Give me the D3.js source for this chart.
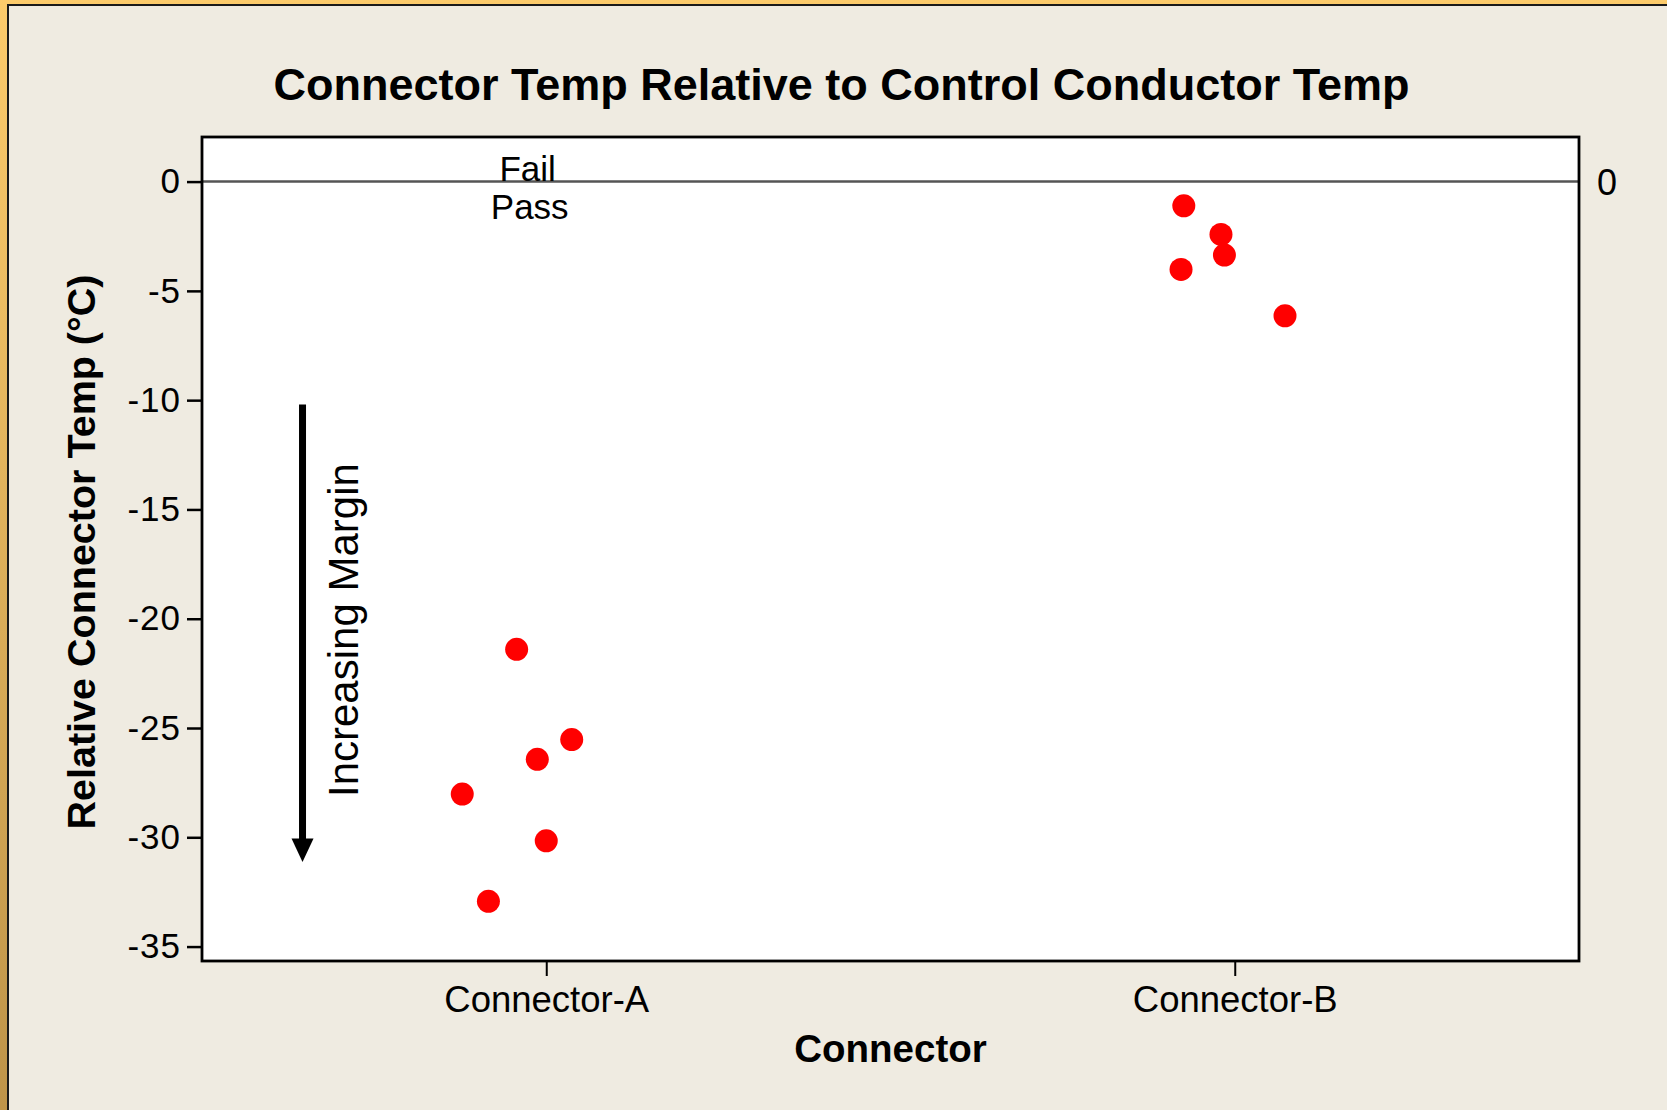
<!DOCTYPE html>
<html><head><meta charset="utf-8">
<script src="https://cdn.jsdelivr.net/npm/d3@7"></script>
<style>
body{margin:0;overflow:hidden;background:#EFEBE1;}
text{font-family:"Liberation Sans",Arial,sans-serif;fill:#000;}
</style>
</head><body><svg id="c" width="1667" height="1110"></svg>
<script>
// ---- data ----
const categories = ["Connector-A", "Connector-B"];
const categoryPos = [1, 2];
const valuesA = [-21.40, -25.53, -26.43, -28.02, -30.16, -32.93];
const xPosA   = [0.957, 1.037, 0.987, 0.878, 1.000, 0.916];
const valuesB = [-1.11, -2.42, -3.36, -4.02, -6.14];
const xPosB   = [1.926, 1.980, 1.985, 1.922, 2.073];
const yTicks  = [0, -5, -10, -15, -20, -25, -30, -35];
const refValue = 0;

// ---- layout ----
const W = 1667, H = 1110;
const L = 202, R = 1579, T = 137, B = 961;
const svg = d3.select("#c");

const defs = svg.append("defs");
const g = defs.append("linearGradient").attr("id","gold").attr("x1",0).attr("y1",0).attr("x2",0).attr("y2",1);
g.append("stop").attr("offset","0%").attr("stop-color","#FCCB6B");
g.append("stop").attr("offset","100%").attr("stop-color","#BE9449");

svg.append("rect").attr("x",0).attr("y",0).attr("width",W).attr("height",H).attr("fill","url(#gold)");
svg.append("rect").attr("x",8).attr("y",5).attr("width",W+20).attr("height",H+20)
  .attr("fill","#EFEBE1").attr("stroke","#1a1a1a").attr("stroke-width",2);

const x = d3.scaleLinear().domain([0.5, 2.5]).range([L, R]);
const y = d3.scaleLinear().domain([-35.66, 2.04]).range([B, T]);

// plot area
svg.append("rect").attr("x",L).attr("y",T).attr("width",R-L).attr("height",B-T).attr("fill","#fff");

// reference line
svg.append("line").attr("x1",L).attr("x2",R).attr("y1",y(refValue)).attr("y2",y(refValue))
  .attr("stroke","#555").attr("stroke-width",2.5);

// y axis
const yAxis = svg.append("g").attr("transform",`translate(${L},0)`)
  .call(d3.axisLeft(y).tickValues(yTicks).tickFormat(d => String(d)).tickSize(15).tickPadding(6));
yAxis.select(".domain").remove();
yAxis.selectAll(".tick line").attr("stroke","#000").attr("stroke-width",2.5);
yAxis.selectAll(".tick text").style("font-size","35px").style("font-family","'Liberation Sans',Arial,sans-serif")
  .attr("letter-spacing","1px").attr("fill","#000");

// x axis
const xAxis = svg.append("g").attr("transform",`translate(0,${B})`)
  .call(d3.axisBottom(x).tickValues(categoryPos).tickFormat((d,i) => categories[i]).tickSize(15).tickPadding(10));
xAxis.select(".domain").remove();
xAxis.selectAll(".tick line").attr("stroke","#000").attr("stroke-width",2);
xAxis.selectAll(".tick text").style("font-size","36.5px").style("font-family","'Liberation Sans',Arial,sans-serif")
  .attr("fill","#000");

// frame
svg.append("rect").attr("x",L).attr("y",T).attr("width",R-L).attr("height",B-T)
  .attr("fill","none").attr("stroke","#000").attr("stroke-width",2.8);

// points
const pts = valuesA.map((v,i)=>({x:xPosA[i], v})).concat(valuesB.map((v,i)=>({x:xPosB[i], v})));
svg.append("g").selectAll("circle").data(pts).join("circle")
  .attr("cx", d => x(d.x)).attr("cy", d => y(d.v)).attr("r", 11.5).attr("fill","#FF0000");

// Fail / Pass labels
svg.append("text").attr("x", x(0.973)).attr("y", y(refValue)-1).attr("text-anchor","middle")
  .style("font-size","35px").text("Fail");
svg.append("text").attr("x", x(0.976)).attr("y", y(refValue)+37).attr("text-anchor","middle")
  .style("font-size","35px").text("Pass");

// right reference label
svg.append("text").attr("x", R+18).attr("y", y(refValue)).attr("dy","0.36em")
  .style("font-size","36px").text("0");

// arrow
const ax = x(0.646);
const yTop = y(-10.2), yHead = y(-30.05), yTip = y(-31.13);
svg.append("line").attr("x1",ax).attr("x2",ax).attr("y1",yTop).attr("y2",yHead+2)
  .attr("stroke","#000").attr("stroke-width",7);
svg.append("path").attr("d",`M${ax-11},${yHead} L${ax+11},${yHead} L${ax},${yTip} Z`).attr("fill","#000");

svg.append("text").attr("transform",`translate(358,797) rotate(-90)`)
  .style("font-size","42px").text("Increasing Margin");

// titles
svg.append("text").attr("x",841.5).attr("y",100).attr("text-anchor","middle")
  .style("font-size","45px").style("font-weight","bold").text("Connector Temp Relative to Control Conductor Temp");
svg.append("text").attr("x",(L+R)/2).attr("y",1062).attr("text-anchor","middle")
  .style("font-size","38.5px").style("font-weight","bold").text("Connector");
svg.append("text").attr("transform",`translate(95,552) rotate(-90)`).attr("text-anchor","middle")
  .style("font-size","39.5px").style("font-weight","bold").text("Relative Connector Temp (°C)");
</script>
</body></html>
